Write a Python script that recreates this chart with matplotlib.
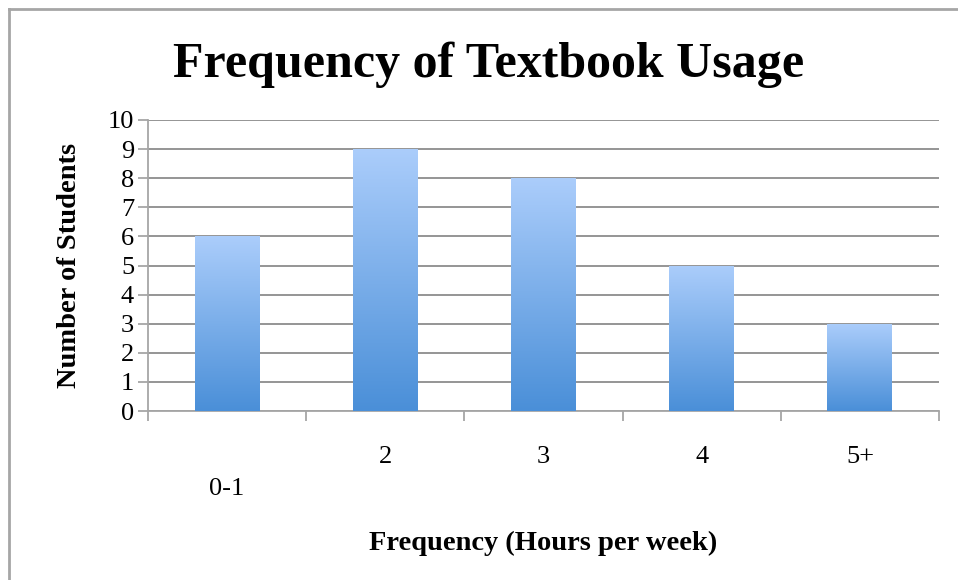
import matplotlib.pyplot as plt
import numpy as np
from matplotlib.colors import LinearSegmentedColormap
from matplotlib.lines import Line2D
from matplotlib.transforms import ScaledTranslation

categories = ['0-1', '2', '3', '4', '5+']
students = [6, 9, 8, 5, 3]

plt.rcParams['font.family'] = ['Liberation Serif', 'DejaVu Serif']

W, H = 958, 580
fig = plt.figure(figsize=(W / 100, H / 100), dpi=100)
ax = fig.add_axes([148 / W, 1 - 411 / H, 791 / W, 291 / H])

x = np.arange(len(categories))
bars = ax.bar(x, students, width=0.41, color='none', edgecolor='none', zorder=3)

# vertical gradient inside each bar
cmap = LinearSegmentedColormap.from_list('blu', ['#4a8fd8', '#abcdfb'])
grad = np.linspace(0, 1, 256).reshape(-1, 1)
for b in bars:
    bx, by, bw, bh = b.get_x(), b.get_y(), b.get_width(), b.get_height()
    im = ax.imshow(grad, cmap=cmap, origin='lower', aspect='auto',
                   extent=[bx, bx + bw, by, by + bh], zorder=3)
    im.set_clip_path(b)

ax.set_xlim(-0.5, len(categories) - 0.5)
ax.set_ylim(0, 10)
ax.set_yticks(range(0, 11))
ax.yaxis.grid(True, color='#8c8c8c', linewidth=1.3, zorder=0)
ax.set_axisbelow(True)

ax.set_xticks(x)
ax.set_xticklabels(categories)
ax.set_xticks(np.arange(-0.5, len(categories)), minor=True)
ax.tick_params(axis='x', which='major', length=0, pad=25, labelsize=19)
ax.tick_params(axis='x', which='minor', length=7, width=1.3, color='#a6a6a6', direction='out')
ax.tick_params(axis='y', length=7, width=1.3, color='#a6a6a6', labelsize=19, pad=3)

# Excel staggered the first label down
lbl = ax.get_xticklabels()[0]
lbl.set_transform(lbl.get_transform() + ScaledTranslation(0, -0.32, fig.dpi_scale_trans))

for s in ['top', 'right']:
    ax.spines[s].set_visible(False)
for s in ['left', 'bottom']:
    ax.spines[s].set_color('#a6a6a6')
    ax.spines[s].set_linewidth(1.3)

fig.text(489 / W, 1 - 77 / H, 'Frequency of Textbook Usage', ha='center', va='baseline',
         fontsize=36, fontweight='bold')
ax.set_xlabel('Frequency (Hours per week)', fontsize=20.5, fontweight='bold')
ax.xaxis.set_label_coords(0.5, -132 / 291)
ax.xaxis.label.set_va('center')
ax.set_ylabel('Number of Students', fontsize=20.5, fontweight='bold')
ax.yaxis.set_label_coords(-78 / 791, 0.5)
ax.yaxis.label.set_va('center')

# chart border (only top and left fall inside the picture)
fig.add_artist(Line2D([9 / W, 9 / W], [0, 1 - 9 / H], transform=fig.transFigure,
                      color='#a6a6a6', linewidth=2))
fig.add_artist(Line2D([9 / W, 1], [1 - 9 / H, 1 - 9 / H], transform=fig.transFigure,
                      color='#a6a6a6', linewidth=2))

fig.savefig('out.png', dpi=100)
